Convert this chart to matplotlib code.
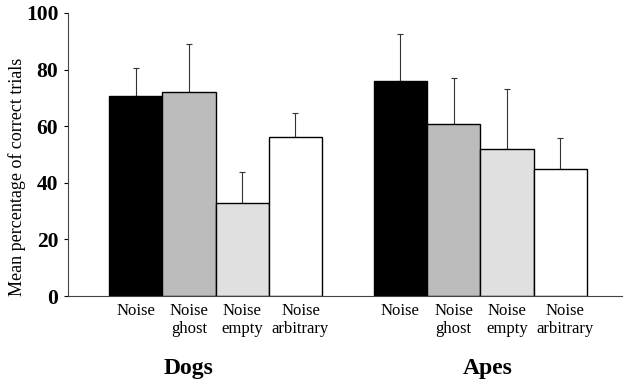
import numpy as np
import matplotlib
matplotlib.use('Agg')
import matplotlib.pyplot as plt
import matplotlib.transforms as mtransforms

plt.rcParams['font.family'] = ['Liberation Serif', 'DejaVu Serif']

# data
conditions = ['Noise', 'Noise\nghost', 'Noise\nempty', 'Noise\narbitrary']
groups = ['Dogs', 'Apes']
dogs_mean = [70.7, 72.2, 32.8, 56.3]
dogs_err = [10.0, 16.7, 11.0, 8.5]
apes_mean = [76.0, 60.9, 52.1, 44.8]
apes_err = [16.5, 16.2, 21.0, 10.9]
bar_colors = ['black', '#bcbcbc', '#e0e0e0', 'white']

fig = plt.figure(figsize=(6.24, 3.83), dpi=100)
ax = fig.add_axes([68 / 624, 1 - 296 / 383, 554 / 624, 283 / 383])

group_starts = [1.27, 6.24]
group_label_x = [2.27, 7.88]
all_means = [dogs_mean, apes_mean]
all_errs = [dogs_err, apes_err]

xticks = []
xlabels = []
for g in range(2):
    x = group_starts[g] + np.arange(4)
    ax.bar(x, all_means[g], width=1.0, color=bar_colors,
           edgecolor='black', linewidth=1.0, zorder=2)
    ax.errorbar(x, all_means[g], yerr=[np.zeros(4), all_errs[g]], fmt='none',
                ecolor='#333333', elinewidth=0.8, capsize=2, capthick=0.8, zorder=1)
    xticks += list(x)
    xlabels += conditions
    ax.text(group_label_x[g], -25.5, groups[g], ha='center', va='center',
            fontsize=17, fontweight='bold', transform=ax.transData, clip_on=False)

ax.set_xlim(0, 10.4)
ax.set_ylim(0, 100)
ax.set_xticks(xticks)
ax.set_xticklabels(xlabels, fontsize=12, linespacing=1.2)
ax.tick_params(axis='x', length=0, pad=5)
# the "arbitrary" labels sit a little right of their bars in the original
shift = mtransforms.ScaledTranslation(5 / 100, 0, fig.dpi_scale_trans)
for lbl in ax.get_xticklabels():
    if 'arbitrary' in lbl.get_text():
        lbl.set_transform(lbl.get_transform() + shift)
ax.set_yticks([0, 20, 40, 60, 80, 100])
ax.tick_params(axis='y', length=3, width=0.8, labelsize=15.5, pad=4)
for lbl in ax.get_yticklabels():
    lbl.set_fontweight('bold')
ax.set_ylabel('Mean percentage of correct trials', fontsize=13)
ax.yaxis.set_label_coords(-0.076, 0.42)

ax.spines['top'].set_visible(False)
ax.spines['right'].set_visible(False)
ax.spines['left'].set_linewidth(0.8)
ax.spines['bottom'].set_linewidth(0.8)
ax.spines['left'].set_color('#444444')
ax.spines['bottom'].set_color('#444444')

fig.savefig('out.png', dpi=100)
